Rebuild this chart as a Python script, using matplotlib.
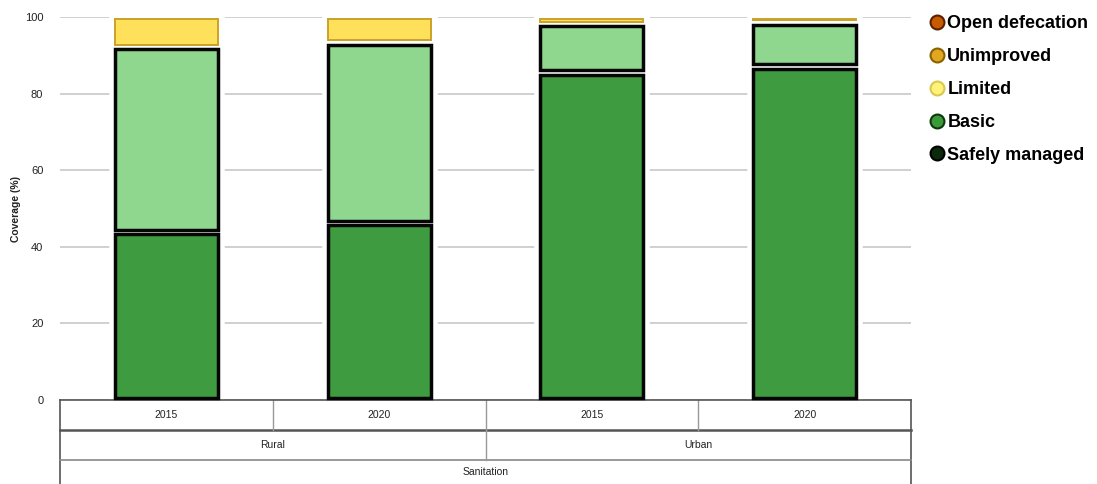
import matplotlib
matplotlib.use("Agg")
import matplotlib.pyplot as plt
import matplotlib.transforms as mtransforms
from matplotlib.lines import Line2D
import numpy as np

# data (coverage %)
years = ["2015", "2020", "2015", "2020"]
areas = ["Rural", "Urban"]
service = "Sanitation"
safely_managed = [43.9, 46.2, 85.5, 87.0]
basic = [48.3, 47.1, 12.7, 11.6]
limited = [7.8, 6.7, 1.8, 1.4]
unimproved = [0, 0, 0, 0]
open_defecation = [0, 0, 0, 0]
yticks = [0, 20, 40, 60, 80, 100]

plt.rcParams['font.family'] = ['Liberation Sans Narrow', 'Liberation Sans', 'DejaVu Sans']

fig = plt.figure(figsize=(10.97, 4.84), dpi=100)
ax = fig.add_axes([60 / 1097, 1 - 400 / 484, 851 / 1097, 383 / 484])

x = np.arange(len(years))
width = 0.485
gap = 1.2

# segments: (values, face, edge, lw)
segments = [
    (safely_managed, "#3e9b40", "#050505", 2.5),
    (basic, "#8fd68f", "#050505", 2.5),
    (limited, "#fee05a", "#c9a227", 1.4),
    (unimproved, "#e0a020", "#a87400", 1.4),
    (open_defecation, "#c85a00", "#803000", 1.4),
]

totals = np.sum([s[0] for s in segments], axis=0)
# white halo behind the stacks so gridlines stop short of the bars
ax.bar(x, totals, width, color="white", edgecolor="white", linewidth=9, zorder=2)

bottom = np.zeros(len(years))
for vals, face, edge, lw in segments:
    vals = np.array(vals, dtype=float)
    mask = vals > 0
    h = np.maximum(vals - gap, 0.3)
    ax.bar(x[mask], h[mask], width, bottom=(bottom + gap / 2)[mask],
           color=face, edgecolor=edge, linewidth=lw, zorder=3, clip_on=False)
    bottom += vals

ax.set_xlim(-0.5, len(years) - 0.5)
ax.set_ylim(0, 100)
ax.set_yticks(yticks)
ax.set_yticklabels([str(t) for t in yticks], fontsize=8, color="#222222")
ax.tick_params(axis="y", length=0, pad=12)
ax.set_xticks([])
ax.yaxis.grid(True, color="#c8c8c8", linewidth=1.2, zorder=0)
ax.set_axisbelow(True)
for side in ["top", "right", "left"]:
    ax.spines[side].set_visible(False)
ax.spines["bottom"].set_color("#555555")
ax.spines["bottom"].set_linewidth(1.2)
ax.set_ylabel("Coverage (%)", fontsize=7.5, fontweight="bold", color="#222222")
ax.yaxis.set_label_coords(-39 / 851, 0.5)

# hierarchical category table below the axes
tr = mtransforms.blended_transform_factory(ax.transData, ax.transAxes)
row = 30 / 383
bot = -84 / 383
lx, rx = -0.5, len(years) - 0.5
ax.plot([lx, lx], [0, bot], color="#555555", lw=1.2, transform=tr, clip_on=False)
ax.plot([rx, rx], [0, bot], color="#555555", lw=1.2, transform=tr, clip_on=False)
ax.plot([lx, rx], [-row, -row], color="#555555", lw=1.8, transform=tr, clip_on=False)
ax.plot([lx, rx], [-2 * row, -2 * row], color="#888888", lw=1.2, transform=tr, clip_on=False)
for xs in [0.5, 1.5, 2.5]:
    ax.plot([xs, xs], [0, -row], color="#999999", lw=1, transform=tr, clip_on=False)
ax.plot([1.5, 1.5], [-row, -2 * row], color="#999999", lw=1, transform=tr, clip_on=False)

for i, yr in enumerate(years):
    ax.text(i, -row / 2, yr, transform=tr, ha="center", va="center", fontsize=7.5, color="#222222")
for j, area in enumerate(areas):
    ax.text(2 * j + 0.5, -1.5 * row, area, transform=tr, ha="center", va="center",
            fontsize=7.5, color="#222222")
ax.text(1.5, -72 / 383, service, transform=tr, ha="center", va="center", fontsize=7.5, color="#222222")

# legend
legend_items = [
    ("Open defecation", "#c85a00", "#5a2000"),
    ("Unimproved", "#e0a820", "#8a6000"),
    ("Limited", "#fff27a", "#d8c850"),
    ("Basic", "#3a9a3a", "#0a3a0a"),
    ("Safely managed", "#0b2a0b", "#000000"),
]
handles = [Line2D([], [], linestyle="none", marker="o", markersize=10,
                  markerfacecolor=fc, markeredgecolor=ec, markeredgewidth=1.5)
           for _, fc, ec in legend_items]
fig.legend(handles, [l for l, _, _ in legend_items], loc="upper left",
           bbox_to_anchor=(923 / 1097, 1 - 8 / 484), frameon=False,
           prop={"family": ["Liberation Sans", "DejaVu Sans"], "weight": "bold", "size": 13},
           handletextpad=0.15, labelspacing=0.88, handlelength=0.8, borderaxespad=0)

fig.savefig("out.png", dpi=100)
